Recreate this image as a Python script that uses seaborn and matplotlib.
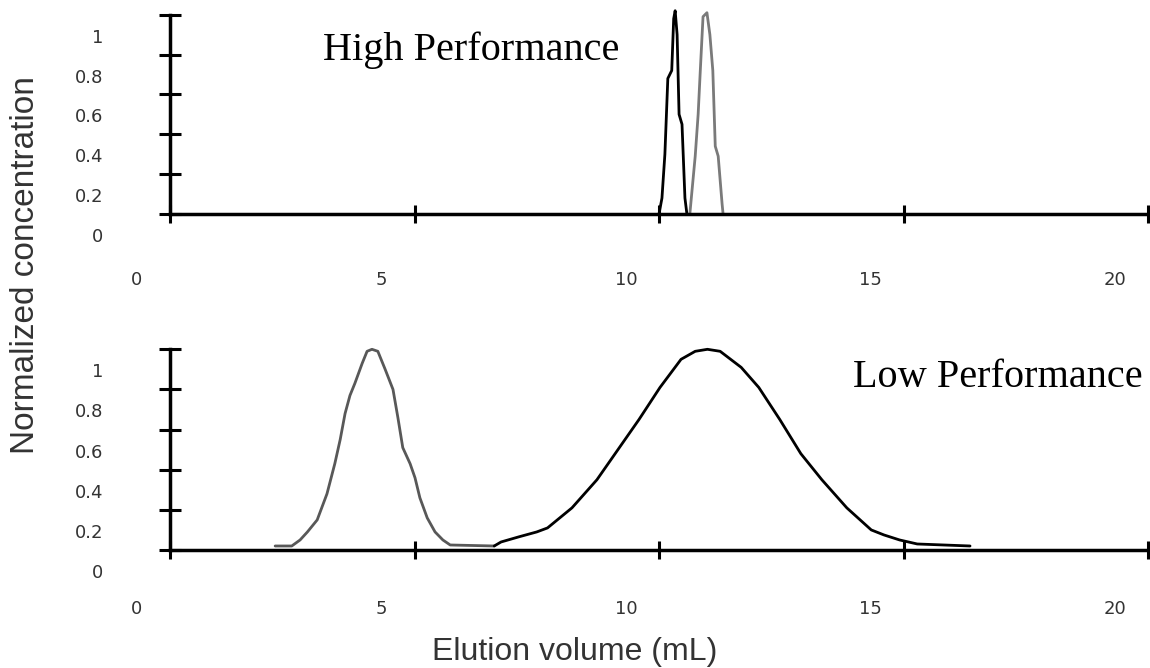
import matplotlib
matplotlib.use("Agg")
import matplotlib.pyplot as plt
import matplotlib.transforms as mtransforms
import pandas as pd
import seaborn as sns

# ---------------- data ----------------
# High performance column: two narrow peaks
hp_peak1_x = [10.00, 10.06, 10.12, 10.18, 10.26, 10.30, 10.33, 10.37, 10.41, 10.47, 10.53, 10.57]
hp_peak1_y = [0.00, 0.08, 0.30, 0.68, 0.72, 0.98, 1.02, 0.90, 0.50, 0.45, 0.08, 0.00]
hp_peak2_x = [10.63, 10.74, 10.80, 10.84, 10.90, 10.98, 11.04, 11.10, 11.15, 11.21, 11.29, 11.31]
hp_peak2_y = [0.00, 0.29, 0.50, 0.70, 0.99, 1.01, 0.90, 0.72, 0.34, 0.29, 0.05, 0.00]

# Low performance column: two broad peaks
lp_peak1_x = [2.15, 2.49, 2.66, 2.81, 3.01, 3.21, 3.37, 3.48, 3.58, 3.68, 3.78, 3.93, 4.03, 4.13,
              4.25, 4.40, 4.56, 4.66, 4.76, 4.91, 5.01, 5.11, 5.26, 5.42, 5.58, 5.73, 6.63]
lp_peak1_y = [0.02, 0.02, 0.05, 0.09, 0.15, 0.28, 0.43, 0.55, 0.68, 0.77, 0.83, 0.93, 0.99, 1.00,
              0.99, 0.90, 0.80, 0.66, 0.51, 0.43, 0.36, 0.26, 0.16, 0.09, 0.05, 0.025, 0.02]
lp_peak2_x = [6.63, 6.77, 7.14, 7.50, 7.72, 8.22, 8.73, 9.16, 9.59, 10.02, 10.45, 10.74, 10.99,
              11.25, 11.68, 12.04, 12.47, 12.90, 13.33, 13.84, 14.34, 14.60, 14.92, 15.28, 16.36]
lp_peak2_y = [0.02, 0.04, 0.066, 0.09, 0.11, 0.21, 0.35, 0.50, 0.65, 0.81, 0.95, 0.99, 1.00,
              0.99, 0.91, 0.81, 0.65, 0.48, 0.35, 0.21, 0.10, 0.075, 0.05, 0.03, 0.02]

x_ticks = [0, 5, 10, 15, 20]
x_tick_labels = ["0", "5", "10", "15", "20"]
y_ticks = [0, 0.2, 0.4, 0.6, 0.8, 1]
y_tick_labels = ["0", "0.2", "0.4", "0.6", "0.8", "1"]

panel_titles = ["High Performance", "Low Performance"]
x_label = "Elution volume (mL)"
y_label = "Normalized concentration"

# ---------------- style ----------------
sns.set_style("white")
plt.rcParams["font.family"] = ["DejaVu Sans"]

W, H = 1150, 668
fig = plt.figure(figsize=(W / 100, H / 100), dpi=100)


def rect(x0, x1, y_zero, y_one):
    return [x0 / W, (H - y_zero) / H, (x1 - x0) / W, (y_zero - y_one) / H]


ax_top = fig.add_axes(rect(170, 1150, 214, 14.7))
ax_bot = fig.add_axes(rect(170, 1150, 550, 349.3))


def draw(ax, x, y, color):
    df = pd.DataFrame({"x": x, "y": y})
    sns.lineplot(data=df, x="x", y="y", ax=ax, color=color, linewidth=2.0,
                 sort=False, estimator=None, clip_on=False)


draw(ax_top, hp_peak1_x, hp_peak1_y, "black")
draw(ax_top, hp_peak2_x, hp_peak2_y, "#7a7a7a")
draw(ax_bot, lp_peak1_x, lp_peak1_y, "#585858")
draw(ax_bot, lp_peak2_x, lp_peak2_y, "black")

for ax, xpad in ((ax_top, 35), (ax_bot, 30)):
    ax.set_xlim(0, 20.04)
    ax.set_ylim(0, 1)
    ax.set_xlabel("")
    ax.set_ylabel("")
    ax.patch.set_alpha(0)
    for s in ("top", "right"):
        ax.spines[s].set_visible(False)
    for s in ("left", "bottom"):
        ax.spines[s].set_linewidth(2.5)
        ax.spines[s].set_color("black")
    ax.set_xticks(x_ticks)
    ax.set_xticklabels(x_tick_labels)
    ax.set_yticks(y_ticks)
    ax.set_yticklabels(y_tick_labels)
    ax.tick_params(axis="x", bottom=True, direction="inout", length=12.5, width=2.2,
                   color="black", pad=xpad, labelsize=13, labelcolor="#333333")
    ax.tick_params(axis="y", left=True, direction="inout", length=16.5, width=2.2,
                   color="black", pad=40, labelsize=13, labelcolor="#333333")
    xoff = mtransforms.ScaledTranslation(-0.33, 0, fig.dpi_scale_trans)
    yoff = mtransforms.ScaledTranslation(0, -0.21, fig.dpi_scale_trans)
    for t in ax.xaxis.get_major_ticks():
        t.label1.set_transform(t.label1.get_transform() + xoff)
    for t in ax.yaxis.get_major_ticks():
        t.label1.set_transform(t.label1.get_transform() + yoff)

# panel annotations
fig.text(323 / W, 1 - 60 / H, panel_titles[0], fontsize=29,
         family=["Liberation Serif", "DejaVu Serif"], color="black", ha="left", va="baseline")
fig.text(853 / W, 1 - 387 / H, panel_titles[1], fontsize=29,
         family=["Liberation Serif", "DejaVu Serif"], color="black", ha="left", va="baseline")

# axis labels
fig.text(575 / W, 1 - 652 / H, x_label, fontsize=23,
         family=["Liberation Sans", "DejaVu Sans"], color="#333333", ha="center", va="center")
fig.text(26 / W, 1 - 265 / H, y_label, fontsize=24, rotation=90,
         family=["Liberation Sans", "DejaVu Sans"], color="#333333", ha="center", va="center")

fig.savefig("out.png", dpi=100)
